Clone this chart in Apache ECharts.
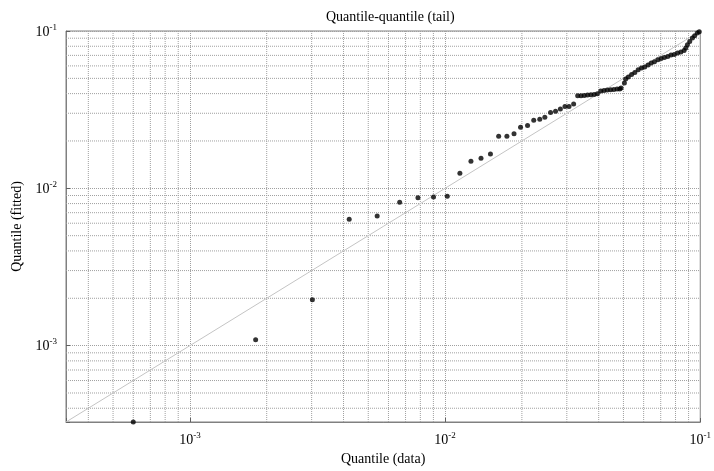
<!DOCTYPE html>
<html>
<head>
<meta charset="utf-8">
<script src="https://cdn.jsdelivr.net/npm/echarts@6/dist/echarts.min.js"></script>
<style>html,body{margin:0;padding:0;background:#fff}#c{width:714px;height:471px}</style>
</head>
<body>
<div id="c"></div>
<script>
// ---- data ----
const titleText = 'Quantile-quantile (tail)';
const xName = 'Quantile (data)';
const yName = 'Quantile (fitted)';
const axisMin = 3.27e-4;
const axisMax = 0.1;
const dataX = [6.0e-4, 1.81e-3, 3.02e-3, 4.21e-3, 5.42e-3, 6.64e-3, 7.83e-3, 9.01e-3, 1.02e-2,
  1.143e-2, 1.263e-2, 1.383e-2, 1.506e-2, 1.622e-2, 1.747e-2, 1.863e-2, 1.976e-2, 2.105e-2,
  2.226e-2, 2.35e-2, 2.46e-2, 2.59e-2, 2.71e-2, 2.83e-2, 2.95e-2, 3.06e-2, 3.19e-2,
  0.03309, 0.03410, 0.03512, 0.03617, 0.03728, 0.03839, 0.03953, 0.04074, 0.04196, 0.04321,
  0.04453, 0.04586, 0.04721, 0.04837, 0.04894, 0.05044, 0.05102, 0.05226, 0.05382, 0.05541,
  0.05712, 0.05882, 0.06057, 0.06244, 0.06425, 0.06615, 0.06823, 0.07025, 0.07235, 0.07458,
  0.07679, 0.07908, 0.08150, 0.08395, 0.08643, 0.08774, 0.08908, 0.09093, 0.09314, 0.09506,
  0.09736, 0.09911];
const dataY = [3.27e-4, 1.09e-3, 1.96e-3, 6.35e-3, 6.66e-3, 8.15e-3, 8.71e-3, 8.8e-3, 8.89e-3,
  1.246e-2, 1.486e-2, 1.553e-2, 1.654e-2, 2.14e-2, 2.14e-2, 2.22e-2, 2.445e-2, 2.506e-2,
  2.71e-2, 2.75e-2, 2.83e-2, 3.03e-2, 3.09e-2, 3.19e-2, 3.31e-2, 3.31e-2, 3.44e-2,
  0.03872, 0.03872, 0.03890, 0.03913, 0.03930, 0.03947, 0.03987, 0.04148, 0.04184, 0.04209,
  0.04227, 0.04246, 0.04271, 0.04271, 0.04334, 0.04664, 0.04946, 0.05093, 0.05291, 0.05448,
  0.05669, 0.05811, 0.05897, 0.06072, 0.06254, 0.06374, 0.06563, 0.06690, 0.06788, 0.06889,
  0.07031, 0.07096, 0.07243, 0.07349, 0.07524, 0.07793, 0.08178, 0.08586, 0.09023, 0.09335,
  0.09712, 0.09897];
const refLineX = [3.27e-4, 0.1];
const refLineY = [3.27e-4, 0.1];
const minorGridX = [4e-4,5e-4,6e-4,7e-4,8e-4,9e-4, 2e-3,3e-3,4e-3,5e-3,6e-3,7e-3,8e-3,9e-3, 2e-2,3e-2,4e-2,5e-2,6e-2,7e-2,8e-2,9e-2];
const minorGridY = [4e-4,5e-4,6e-4,7e-4,8e-4,9e-4, 2e-3,3e-3,4e-3,5e-3,6e-3,7e-3,8e-3,9e-3, 2e-2,3e-2,4e-2,5e-2,6e-2,7e-2,8e-2,9e-2];

// ---- chart ----
const FONT = 'Liberation Serif';
const gridStyle = { color: '#a0a0a0', width: 1, type: [1, 1] };
function powLabel(v) {
  const e = Math.log10(v);
  const r = Math.round(e);
  if (Math.abs(e - r) > 1e-6) return '';
  return '{b|10}{sup|' + r + '}';
}
const labelRich = {
  b: { fontSize: 14, fontFamily: FONT, color: '#000', lineHeight: 16, verticalAlign: 'bottom' },
  sup: { fontSize: 9, fontFamily: FONT, color: '#000', lineHeight: 16, verticalAlign: 'top', padding: [0, 0, 5, 0] }
};
const chart = echarts.init(document.getElementById('c'), null, { renderer: 'canvas' });
const points = dataX.map((x, i) => [x, dataY[i]]);
const refLine = refLineX.map((x, i) => [x, refLineY[i]]);
const gridSeries = [];
minorGridX.forEach(v => gridSeries.push({
  type: 'line', data: [[v, axisMin], [v, axisMax]], z: 0, symbol: 'none', silent: true,
  lineStyle: gridStyle, clip: true
}));
minorGridY.forEach(v => gridSeries.push({
  type: 'line', data: [[axisMin, v], [axisMax, v]], z: 0, symbol: 'none', silent: true,
  lineStyle: gridStyle, clip: true
}));
chart.setOption({
  animation: false,
  backgroundColor: '#fff',
  title: {
    text: titleText, left: 321, top: 5,
    textStyle: { fontFamily: FONT, fontSize: 14, fontWeight: 'normal', color: '#000' }
  },
  grid: { left: 66, top: 31, width: 643, height: 391, show: true, borderColor: '#808080', borderWidth: 1, backgroundColor: 'transparent' },
  xAxis: {
    type: 'log', min: axisMin, max: axisMax,
    name: xName, nameLocation: 'middle', nameGap: 30,
    nameTextStyle: { fontFamily: FONT, fontSize: 14, color: '#000' },
    axisLine: { lineStyle: { color: '#808080' } },
    axisTick: { show: true, inside: true, length: 4, lineStyle: { color: '#606060' } },
    axisLabel: { formatter: powLabel, rich: labelRich, margin: 9, showMinLabel: true, showMaxLabel: true, hideOverlap: false },
    splitLine: { show: true, lineStyle: gridStyle }
  },
  yAxis: {
    type: 'log', min: axisMin, max: axisMax,
    name: yName, nameLocation: 'middle', nameGap: 40,
    nameTextStyle: { fontFamily: FONT, fontSize: 14, color: '#000' },
    axisLine: { show: true, lineStyle: { color: '#808080' } },
    axisTick: { show: true, inside: true, length: 4, lineStyle: { color: '#606060' } },
    axisLabel: { formatter: powLabel, rich: labelRich, margin: 9 },
    splitLine: { show: true, lineStyle: gridStyle }
  },
  series: gridSeries.concat([
    {
      type: 'line', data: refLine, z: 1, symbol: 'none', silent: true,
      lineStyle: { color: '#c4c4c4', width: 1 }
    },
    {
      type: 'scatter', data: points, z: 3, symbol: 'circle', symbolSize: 5, clip: false,
      itemStyle: { color: '#000' }
    }
  ])
});
</script>
</body>
</html>
